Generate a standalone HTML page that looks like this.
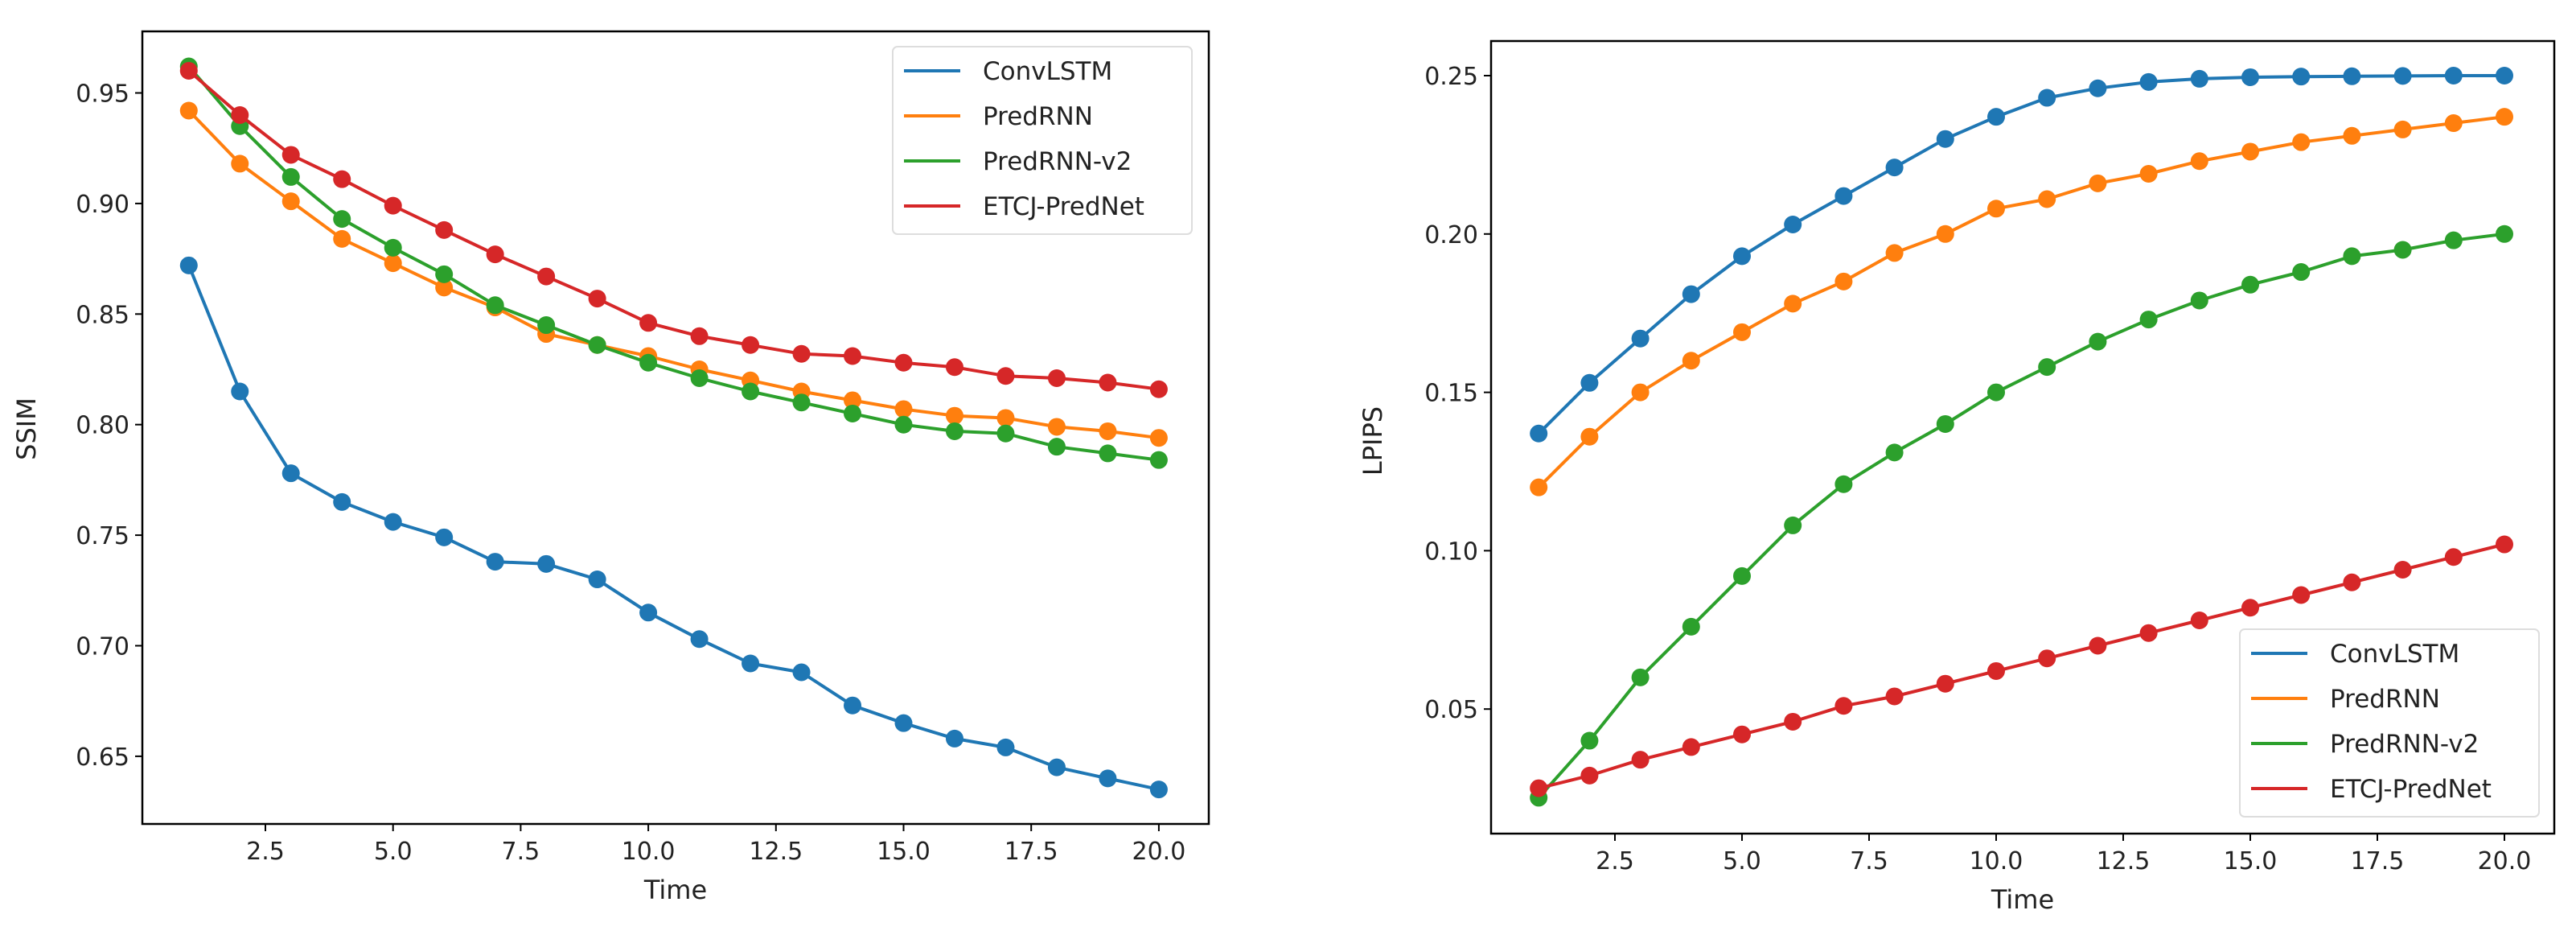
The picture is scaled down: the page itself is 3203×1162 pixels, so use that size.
<!DOCTYPE html>
<html><head><meta charset="utf-8"><style>
body{margin:0;background:#fff}
svg{display:block;font-family:"DejaVu Sans","Liberation Sans",sans-serif}
</style></head><body>
<svg id="c" width="3203" height="1162" xmlns="http://www.w3.org/2000/svg"></svg>
<script>
const times=[1,2,3,4,5,6,7,8,9,10,11,12,13,14,15,16,17,18,19,20];
const seriesNames=["ConvLSTM","PredRNN","PredRNN-v2","ETCJ-PredNet"];
const colors=["#1f77b4","#ff7f0e","#2ca02c","#d62728"];
const ssimConv=[.872,.815,.778,.765,.756,.749,.738,.737,.730,.715,.703,.692,.688,.673,.665,.658,.654,.645,.640,.635];
const ssimPred=[.942,.918,.901,.884,.873,.862,.853,.841,.836,.831,.825,.820,.815,.811,.807,.804,.803,.799,.797,.794];
const ssimV2=[.962,.935,.912,.893,.880,.868,.854,.845,.836,.828,.821,.815,.810,.805,.800,.797,.796,.790,.787,.784];
const ssimEtcj=[.960,.940,.922,.911,.899,.888,.877,.867,.857,.846,.840,.836,.832,.831,.828,.826,.822,.821,.819,.816];
const lpConv=[.137,.153,.167,.181,.193,.203,.212,.221,.230,.237,.243,.246,.248,.249,.2495,.2497,.2498,.2499,.25,.25];
const lpPred=[.120,.136,.150,.160,.169,.178,.185,.194,.200,.208,.211,.216,.219,.223,.226,.229,.231,.233,.235,.237];
const lpV2=[.022,.040,.060,.076,.092,.108,.121,.131,.140,.150,.158,.166,.173,.179,.184,.188,.193,.195,.198,.200];
const lpEtcj=[.025,.029,.034,.038,.042,.046,.051,.054,.058,.062,.066,.070,.074,.078,.082,.086,.090,.094,.098,.102];
const xTicks=[2.5,5.0,7.5,10.0,12.5,15.0,17.5,20.0];
const ssimTicks=[0.65,0.70,0.75,0.80,0.85,0.90,0.95];
const lpTicks=[0.05,0.10,0.15,0.20,0.25];

const svg=document.getElementById('c');
const NS="http://www.w3.org/2000/svg";
function mk(tag,attrs,parent){const e=document.createElementNS(NS,tag);for(const k in attrs)e.setAttribute(k,attrs[k]);(parent||svg).appendChild(e);return e;}

function panel(p){
  const g=mk('g',{});
  
  
  const X=t=>p.x0+(t-2.5)*p.xs;
  const Y=v=>p.y0+(p.v0-v)*p.ys;
  // series
  p.data.forEach((arr,i)=>{
    const pts=arr.map((v,j)=>X(times[j]).toFixed(1)+','+Y(v).toFixed(1)).join(' ');
    const pl=mk('polyline',{points:pts,fill:'none',stroke:colors[i],'stroke-width':4,'stroke-linejoin':'round'},g);
    
    
    arr.forEach((v,j)=>{
      const c=mk('circle',{cx:X(times[j]),cy:Y(v),r:11,fill:colors[i]},g);
      
      
    });
  });
  // frame
  const f=mk('rect',{x:p.L,y:p.T,width:p.R-p.L,height:p.B-p.T,fill:'none',stroke:'#000','stroke-width':2.5},g);
  
  
  xTicks.forEach(t=>{
    mk('line',{x1:X(t),x2:X(t),y1:p.B,y2:p.B+9,stroke:'#000','stroke-width':2},g);
    const tx=mk('text',{x:X(t),y:p.B+44,'font-size':30,'text-anchor':'middle',fill:'#222'},g);
    tx.textContent=t.toFixed(1);
    
    
  });
  p.yt.forEach(v=>{
    mk('line',{x1:p.L-9,x2:p.L,y1:Y(v),y2:Y(v),stroke:'#000','stroke-width':2},g);
    const tx=mk('text',{x:p.L-16,y:Y(v)+11,'font-size':30,'text-anchor':'end',fill:'#222'},g);
    tx.textContent=v.toFixed(2);
    
    
  });
  const xl=mk('text',{x:(p.L+p.R)/2,y:p.B+93,'font-size':32,'text-anchor':'middle',fill:'#222'},g);
  xl.textContent='Time';
  
  
  const yl=mk('text',{x:p.ylx,y:p.yly,'font-size':32,'text-anchor':'middle',fill:'#222',transform:`rotate(-90 ${p.ylx} ${p.yly})`},g);
  yl.textContent=p.ylabel;
  
  
  // legend
  const lg=mk('g',{},g);
  
  
  mk('rect',{x:p.lx,y:p.ly,width:372,height:233,rx:6,fill:'#fff','fill-opacity':0.85,stroke:'#ddd','stroke-width':2},lg);
  seriesNames.forEach((n,i)=>{
    const yy=p.ly+30+i*56;
    mk('line',{x1:p.lx+14,x2:p.lx+84,y1:yy,y2:yy,stroke:colors[i],'stroke-width':4},lg);
    const t=mk('text',{x:p.lx+112,y:yy+11,'font-size':31,fill:'#222'},lg);
    t.textContent=n;
    
    
  });
}
panel({name:'ssim-panel',L:177,R:1503,T:39,B:1024,x0:330,xs:158.7/2.5,y0:115.5,v0:0.95,ys:137.4/0.05,
  data:[ssimConv,ssimPred,ssimV2,ssimEtcj],yt:ssimTicks,ylabel:'SSIM',ylx:44,yly:533,lx:1110,ly:58});
panel({name:'lpips-panel',L:1854,R:3176,T:51,B:1036,x0:2008,xs:158/2.5,y0:94,v0:0.25,ys:196.8/0.05,
  data:[lpConv,lpPred,lpV2,lpEtcj],yt:lpTicks,ylabel:'LPIPS',ylx:1718,yly:548,lx:2785,ly:782});
</script>
</body></html>
